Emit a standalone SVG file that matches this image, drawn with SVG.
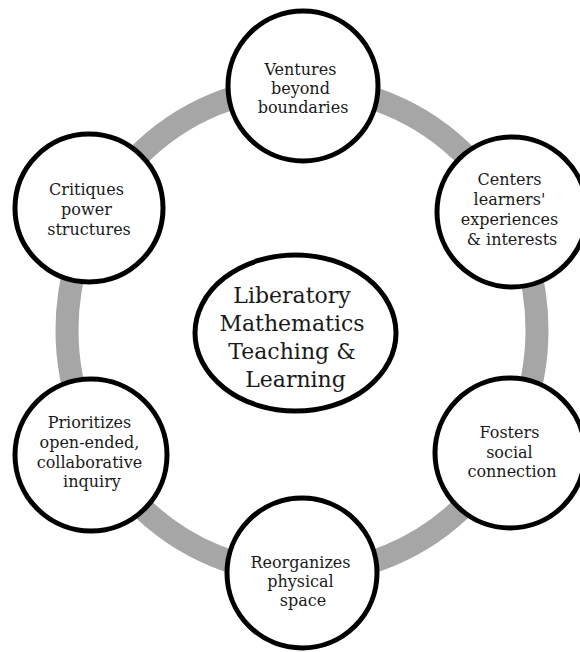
<svg xmlns="http://www.w3.org/2000/svg" width="580" height="652" viewBox="0 0 580 652">
  <style>
    .ring { fill: none; stroke: #a6a6a6; stroke-width: 23; }
    .node { fill: #ffffff; stroke: #000000; stroke-width: 5; }
    .label { font-family: "DejaVu Serif", "Liberation Serif", serif; font-size: 16px; fill: #1a1a1a; text-anchor: middle; }
    .core { font-family: "DejaVu Serif", "Liberation Serif", serif; font-size: 22px; fill: #1a1a1a; text-anchor: middle; }
  </style>
  <rect width="580" height="652" fill="#ffffff"/>

  <!-- grey cycle linking the six practices -->
  <g id="connectors">
    <ellipse class="ring" cx="302" cy="330" rx="235" ry="243"/>
  </g>

  <g id="center">
    <ellipse class="node" cx="295.5" cy="333" rx="100.5" ry="78"/>
    <text class="core">
      <tspan x="295.5" y="303">Liberatory</tspan>
      <tspan x="295.5" y="331">Mathematics</tspan>
      <tspan x="295.5" y="359">Teaching &amp;</tspan>
      <tspan x="295.5" y="387">Learning</tspan>
    </text>
  </g>

  <g id="ventures">
    <circle class="node" cx="303" cy="86" r="75"/>
    <text class="label">
      <tspan x="303" y="75">Ventures</tspan>
      <tspan x="303" y="94">beyond</tspan>
      <tspan x="303" y="113">boundaries</tspan>
    </text>
  </g>

  <g id="centers">
    <circle class="node" cx="512" cy="212" r="75"/>
    <text class="label">
      <tspan x="512" y="185">Centers</tspan>
      <tspan x="512" y="205">learners'</tspan>
      <tspan x="512" y="225">experiences</tspan>
      <tspan x="512" y="245">&amp; interests</tspan>
    </text>
  </g>

  <g id="fosters">
    <circle class="node" cx="510" cy="453" r="75"/>
    <text class="label">
      <tspan x="512" y="438">Fosters</tspan>
      <tspan x="512" y="458">social</tspan>
      <tspan x="512" y="477">connection</tspan>
    </text>
  </g>

  <g id="reorganizes">
    <circle class="node" cx="302" cy="573" r="75"/>
    <text class="label">
      <tspan x="303" y="568">Reorganizes</tspan>
      <tspan x="303" y="587">physical</tspan>
      <tspan x="303" y="606">space</tspan>
    </text>
  </g>

  <g id="prioritizes">
    <circle class="node" cx="91" cy="455" r="76"/>
    <text class="label">
      <tspan x="92" y="428">Prioritizes</tspan>
      <tspan x="92" y="448">open-ended,</tspan>
      <tspan x="92" y="468">collaborative</tspan>
      <tspan x="92" y="487">inquiry</tspan>
    </text>
  </g>

  <g id="critiques">
    <circle class="node" cx="89" cy="208" r="74"/>
    <text class="label">
      <tspan x="89" y="195">Critiques</tspan>
      <tspan x="89" y="215">power</tspan>
      <tspan x="89" y="235">structures</tspan>
    </text>
  </g>
</svg>
